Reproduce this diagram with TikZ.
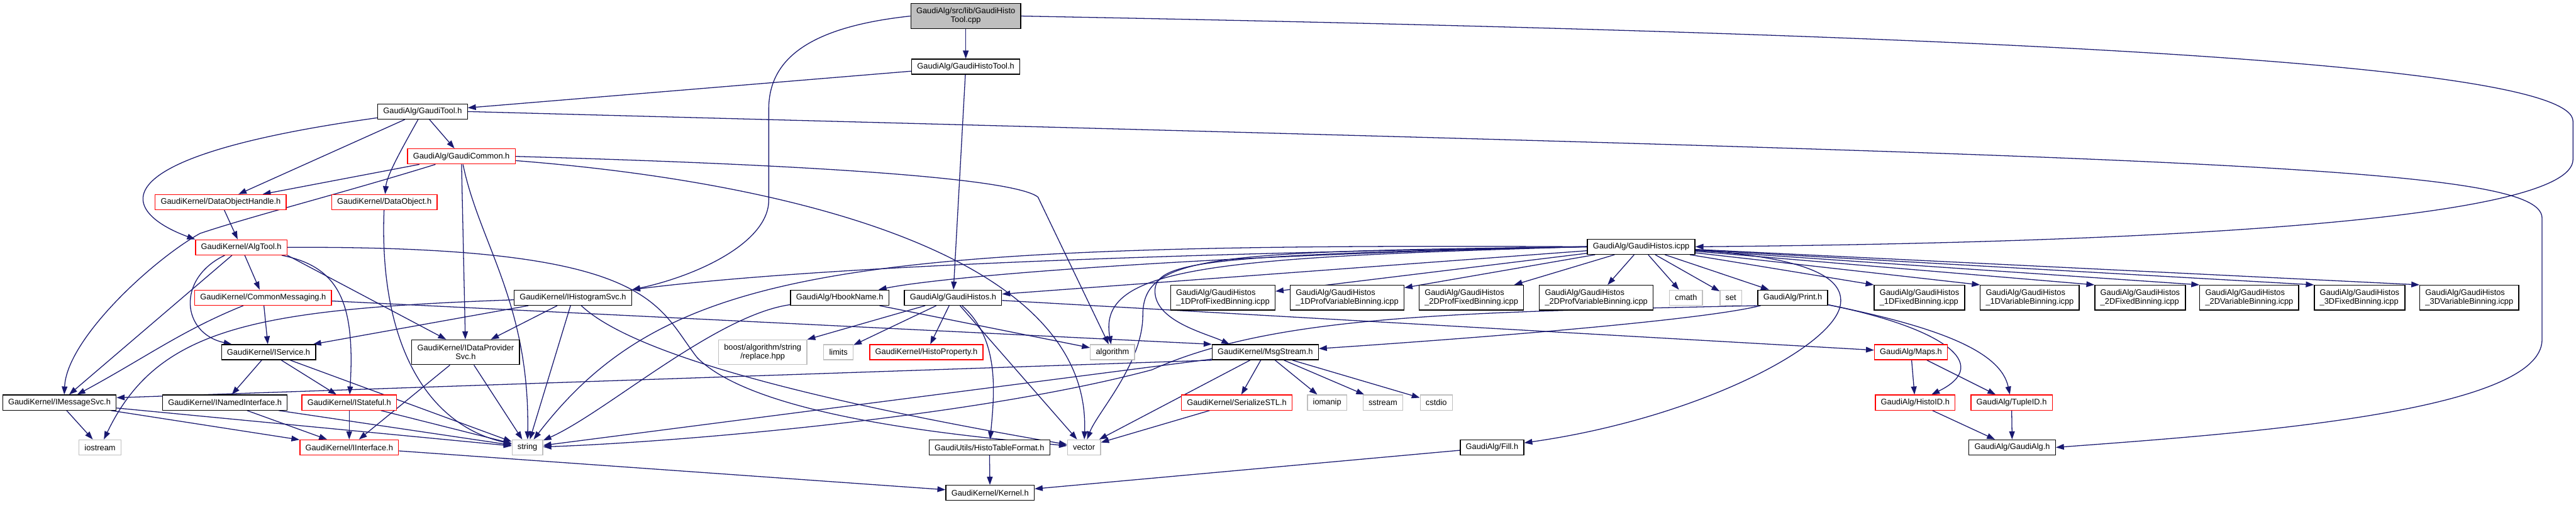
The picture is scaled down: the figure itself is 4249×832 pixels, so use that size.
\documentclass[tikz,border=0pt]{standalone}
\usepackage{fontspec}
\setmainfont{Liberation Sans}
\usepackage{xcolor}
\usepackage{tikz}
\usetikzlibrary{shapes,arrows.meta,positioning,backgrounds}

\definecolor{edgeblue}{HTML}{191970}
\definecolor{truncred}{HTML}{FF0000}
\definecolor{sysgray}{HTML}{BFBFBF}

\begin{document}
\begin{tikzpicture}[x=0.75pt,y=-0.75pt,
    font=\fontsize{10}{11}\selectfont,
    incfile/.style={draw=black,fill=white,line width=1pt,inner xsep=6.8pt,inner ysep=2pt,minimum height=18.75pt},
    twoline/.style={incfile,align=center,minimum height=30.75pt},
    leftline/.style={incfile,align=left,minimum height=30.75pt},
    trunc/.style={incfile,draw=truncred},
    sysinc/.style={incfile,draw=sysgray},
    rootfile/.style={twoline,fill=sysgray},
    dep/.style={-{Triangle[length=10pt,width=7pt]},draw=edgeblue,line width=1pt}]
    \useasboundingbox (0,0) rectangle (4249,832);

    % top of the graph
    \node[rootfile] (root) at (1593,26.5) {GaudiAlg/src/lib/GaudiHisto\\Tool.cpp};
    \node[incfile] (histotool) at (1593,110) {GaudiAlg/GaudiHistoTool.h};
    \node[incfile] (gauditool) at (697,184) {GaudiAlg/GaudiTool.h};
    \node[trunc] (common) at (761,258) {GaudiAlg/GaudiCommon.h};
    \node[trunc] (dohandle) at (364,333.5) {GaudiKernel/DataObjectHandle.h};
    \node[trunc] (dataobj) at (634,333.5) {GaudiKernel/DataObject.h};
    \node[trunc] (algtool) at (398,408) {GaudiKernel/AlgTool.h};
    \node[incfile] (histicpp) at (2707,407) {GaudiAlg/GaudiHistos.icpp};

    % GaudiKernel interfaces
    \node[trunc] (commsg) at (434,491) {GaudiKernel/CommonMessaging.h};
    \node[incfile] (ihsvc) at (945,491) {GaudiKernel/IHistogramSvc.h};
    \node[incfile] (isvc) at (443,581) {GaudiKernel/IService.h};
    \node[twoline] (idpsvc) at (768,581) {GaudiKernel/IDataProvider\\Svc.h};
    \node[incfile] (imsgsvc) at (98,664) {GaudiKernel/IMessageSvc.h};
    \node[incfile] (inamed) at (371,664) {GaudiKernel/INamedInterface.h};
    \node[trunc] (istate) at (576,664) {GaudiKernel/IStateful.h};
    \node[trunc] (iiface) at (576,738) {GaudiKernel/IInterface.h};
    \node[sysinc] (iostr) at (165,738) {iostream};
    \node[sysinc] (str) at (870,738) {string};

    % histogram headers
    \node[incfile] (hbook) at (1385,491) {GaudiAlg/HbookName.h};
    \node[incfile] (histos) at (1572,491) {GaudiAlg/GaudiHistos.h};
    \node[twoline,draw=sysgray] (boost) at (1258,581) {boost/algorithm/string\\/replace.hpp};
    \node[sysinc] (limits) at (1383,581) {limits};
    \node[trunc] (histoprop) at (1528,581) {GaudiKernel/HistoProperty.h};
    \node[sysinc] (algo) at (1835,581) {algorithm};
    \node[incfile] (msgstream) at (2087,581) {GaudiKernel/MsgStream.h};
    \node[trunc] (serstl) at (2040,664) {GaudiKernel/SerializeSTL.h};
    \node[sysinc] (iomanip) at (2189,664) {iomanip};
    \node[sysinc] (sstream) at (2281,664) {sstream};
    \node[sysinc] (cstdio) at (2369,664) {cstdio};
    \node[incfile] (htfmt) at (1632,738) {GaudiUtils/HistoTableFormat.h};
    \node[sysinc] (vec) at (1788,738) {vector};
    \node[incfile] (kernel) at (1633,813) {GaudiKernel/Kernel.h};
    \node[incfile] (fill) at (2461,738) {GaudiAlg/Fill.h};

    % icpp row
    \node[leftline] (p1f) at (2017,491) {GaudiAlg/GaudiHistos\\\_1DProfFixedBinning.icpp};
    \node[leftline] (p1v) at (2222,491) {GaudiAlg/GaudiHistos\\\_1DProfVariableBinning.icpp};
    \node[leftline] (p2f) at (2427,491) {GaudiAlg/GaudiHistos\\\_2DProfFixedBinning.icpp};
    \node[leftline] (p2v) at (2633,491) {GaudiAlg/GaudiHistos\\\_2DProfVariableBinning.icpp};
    \node[sysinc] (cmath) at (2781,491) {cmath};
    \node[sysinc] (setinc) at (2855,491) {set};
    \node[incfile] (print) at (2957,491) {GaudiAlg/Print.h};
    \node[leftline] (f1) at (3166,491) {GaudiAlg/GaudiHistos\\\_1DFixedBinning.icpp};
    \node[leftline] (v1) at (3348,491) {GaudiAlg/GaudiHistos\\\_1DVariableBinning.icpp};
    \node[leftline] (f2) at (3530,491) {GaudiAlg/GaudiHistos\\\_2DFixedBinning.icpp};
    \node[leftline] (v2) at (3710,491) {GaudiAlg/GaudiHistos\\\_2DVariableBinning.icpp};
    \node[leftline] (f3) at (3892,491) {GaudiAlg/GaudiHistos\\\_3DFixedBinning.icpp};
    \node[leftline] (v3) at (4073,491) {GaudiAlg/GaudiHistos\\\_3DVariableBinning.icpp};
    \node[trunc] (maps) at (3152,581) {GaudiAlg/Maps.h};
    \node[trunc] (histoid) at (3159,664) {GaudiAlg/HistoID.h};
    \node[trunc] (tupleid) at (3318,664) {GaudiAlg/TupleID.h};
    \node[incfile] (gaudialg) at (3319,738) {GaudiAlg/GaudiAlg.h};

    \begin{scope}[on background layer]
    % includes of the tool
    \draw[dep] (root) -- (histotool);
    \draw[dep] (root.west) .. controls (1330,45) and (1268,100) .. (1268,180) -- (1268,330) .. controls (1268,400) and (1150,455) .. (ihsvc.north east);
    \draw[dep] (root.east) .. controls (3200,55) and (4244,100) .. (4244,200) -- (4244,263) .. controls (4244,360) and (3600,400) .. (histicpp.east);
    \draw[dep] (histotool) -- (gauditool);
    \draw[dep] (histotool) -- (histos);

    % GaudiTool / GaudiCommon
    \draw[dep] (gauditool) -- (common);
    \draw[dep] (gauditool) -- (dohandle);
    \draw[dep] (gauditool) .. controls (660,250) and (638,290) .. (dataobj);
    \draw[dep] (gauditool) .. controls (150,260) and (200,350) .. (algtool.north west);
    \draw[dep] (gauditool.east) .. controls (3600,260) and (4193,270) .. (4193,360) -- (4193,560) .. controls (4193,680) and (3700,715) .. (gaudialg.east);
    \draw[dep] (common) -- (dohandle);
    \draw[dep] (common) .. controls (560,320) and (420,355) .. (330,385) .. controls (250,430) and (110,560) .. ([xshift=6pt]imsgsvc.north);
    \draw[dep] (common) -- (idpsvc);
    \draw[dep] (common) .. controls (790,400) and (874,500) .. (str);
    \draw[dep] (common) .. controls (1300,300) and (1800,420) .. (vec);
    \draw[dep] (common.east) .. controls (1450,275) and (1680,300) .. (1712,325) -- (algo);
    \draw[dep] (dohandle) -- (algtool);
    \draw[dep] (dataobj) .. controls (625,560) and (700,700) .. (str);

    % AlgTool and interfaces
    \draw[dep] (algtool) -- (commsg);
    \draw[dep] (algtool) -- ([xshift=12pt]imsgsvc.north);
    \draw[dep] (algtool) .. controls (290,460) and (300,550) .. (isvc);
    \draw[dep] (algtool) .. controls (560,440) and (586,500) .. (istate);
    \draw[dep] (algtool.south east) -- ([xshift=43pt]idpsvc.north west);
    \draw[dep] (algtool.east) .. controls (1080,405) and (1080,500) .. (1150,590) .. controls (1250,690) and (1600,720) .. (vec);
    \draw[dep] (commsg) .. controls (300,545) and (240,590) .. ([xshift=22pt]imsgsvc.north);
    \draw[dep] (commsg) -- (isvc);
    \draw[dep] (commsg) -- (msgstream.north west);
    \draw[dep] (ihsvc) .. controls (420,510) and (260,540) .. (iostr);
    \draw[dep] (ihsvc) -- (isvc);
    \draw[dep] (ihsvc) -- (idpsvc);
    \draw[dep] (ihsvc) -- (str);
    \draw[dep] (ihsvc) .. controls (1060,600) and (1450,680) .. (vec);
    \draw[dep] (isvc) -- (inamed);
    \draw[dep] (isvc) -- (istate);
    \draw[dep] (isvc) -- (str);
    \draw[dep] (idpsvc) -- (iiface);
    \draw[dep] (idpsvc) -- (str);
    \draw[dep] (imsgsvc) -- (iostr);
    \draw[dep] (imsgsvc) -- (iiface);
    \draw[dep] (imsgsvc) -- (str);
    \draw[dep] (inamed) -- (iiface);
    \draw[dep] (inamed) -- (str);
    \draw[dep] (istate) -- (iiface);
    \draw[dep] (istate) -- (str);
    \draw[dep] (iiface) -- (kernel);

    % MsgStream
    \draw[dep] (msgstream.south west) -- ([yshift=6pt]imsgsvc.east);
    \draw[dep] (msgstream) -- (str);
    \draw[dep] (msgstream) -- (serstl);
    \draw[dep] (msgstream) -- (iomanip);
    \draw[dep] (msgstream) -- (sstream);
    \draw[dep] (msgstream) -- (cstdio);
    \draw[dep] (msgstream) -- (vec);
    \draw[dep] (serstl) -- (vec);

    % GaudiHistos.h and HbookName.h
    \draw[dep] (hbook) .. controls (1180,520) and (1000,680) .. (str);
    \draw[dep] (hbook) -- (algo);
    \draw[dep] (histos) -- (boost);
    \draw[dep] (histos) -- (limits);
    \draw[dep] (histos) -- (histoprop);
    \draw[dep] (histos) .. controls (1650,560) and (1640,650) .. (htfmt);
    \draw[dep] (histos) -- (vec);
    \draw[dep] (histos) -- (maps);
    \draw[dep] (htfmt) -- (kernel);
    \draw[dep] (fill) -- (kernel);

    % GaudiHistos.icpp
    \draw[dep] (histicpp.west) .. controls (1800,420) and (1300,445) .. (ihsvc.north east);
    \draw[dep] (histicpp.west) .. controls (2000,420) and (1560,455) .. (hbook);
    \draw[dep] (histicpp) -- (histos);
    \draw[dep] (histicpp.west) .. controls (1400,400) and (1100,440) .. (str);
    \draw[dep] (histicpp.west) .. controls (2000,425) and (1810,440) .. (algo);
    \draw[dep] (histicpp.west) .. controls (2000,415) and (1885,420) .. (1885,520) .. controls (1885,600) and (1810,680) .. (vec);
    \draw[dep] (histicpp.west) .. controls (2000,420) and (1905,430) .. (1905,480) .. controls (1905,530) and (1990,550) .. ([xshift=22pt]msgstream.north west);
    \draw[dep] (histicpp) -- (p1f);
    \draw[dep] (histicpp) -- (p1v);
    \draw[dep] (histicpp) -- (p2f);
    \draw[dep] (histicpp) -- (p2v);
    \draw[dep] (histicpp) -- (cmath);
    \draw[dep] (histicpp) -- (setinc);
    \draw[dep] (histicpp) -- (print);
    \draw[dep] (histicpp) -- (f1.north west);
    \draw[dep] (histicpp) -- (v1.north west);
    \draw[dep] (histicpp) -- (f2.north west);
    \draw[dep] (histicpp) -- (v2.north west);
    \draw[dep] (histicpp) -- (f3.north west);
    \draw[dep] (histicpp) -- (v3.north west);
    \draw[dep] (histicpp) .. controls (2990,425) and (3040,460) .. (3036,500) .. controls (3030,570) and (2800,690) .. (fill);

    % Print.h and Maps.h
    \draw[dep] (print) .. controls (2800,530) and (2400,560) .. (msgstream);
    \draw[dep] (print.south west) .. controls (2400,515) and (2100,520) .. (1900,610) .. controls (1600,690) and (1100,730) .. (str);
    \draw[dep] (print) .. controls (3200,540) and (3290,600) .. (histoid);
    \draw[dep] (print) .. controls (3200,540) and (3300,580) .. (tupleid);
    \draw[dep] (maps) -- (histoid);
    \draw[dep] (maps) -- (tupleid);
    \draw[dep] (histoid) -- (gaudialg);
    \draw[dep] (tupleid) -- (gaudialg);
    \end{scope}
\end{tikzpicture}
\end{document}
